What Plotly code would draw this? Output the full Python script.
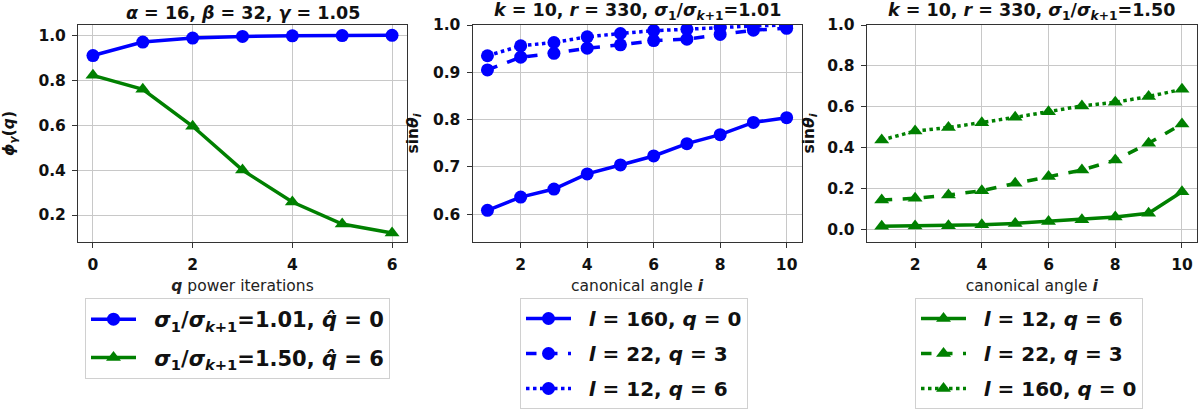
import plotly.graph_objects as go
from plotly.subplots import make_subplots

# panel 1: phi_gamma(q) vs power iterations
q_iters = [0, 1, 2, 3, 4, 5, 6]
phi_101 = [0.910, 0.970, 0.988, 0.995, 0.998, 0.999, 1.000]
phi_150 = [0.822, 0.760, 0.595, 0.400, 0.258, 0.160, 0.120]

# panels 2 and 3: sin(theta_i) vs canonical angle
angle_i = [1, 2, 3, 4, 5, 6, 7, 8, 9, 10]
sin_101_l160 = [0.608, 0.636, 0.653, 0.685, 0.704, 0.723, 0.749, 0.768, 0.794, 0.804]
sin_101_l22 = [0.905, 0.932, 0.940, 0.951, 0.958, 0.967, 0.970, 0.980, 0.989, 0.993]
sin_101_l12 = [0.935, 0.956, 0.963, 0.975, 0.982, 0.988, 0.991, 0.995, 0.998, 1.000]

sin_150_l12 = [0.015, 0.016, 0.018, 0.022, 0.029, 0.038, 0.047, 0.060, 0.079, 0.184]
sin_150_l22 = [0.144, 0.152, 0.168, 0.189, 0.225, 0.258, 0.290, 0.339, 0.421, 0.516]
sin_150_l160 = [0.437, 0.481, 0.498, 0.522, 0.548, 0.576, 0.604, 0.622, 0.650, 0.685]

BLUE = "#0000ff"
GREEN = "#008000"
FONT = "DejaVu Sans"

sig = "<i>σ</i><sub>1</sub>/<i>σ</i><sub><i>k</i>+1</sub>"
pad = "&nbsp;&nbsp;"

fig = make_subplots(rows=1, cols=3)


def add_line(x, y, col, color, symbol, dash, name, legend, group):
    fig.add_trace(go.Scatter(
        x=x, y=y, mode="lines+markers", name=pad + name,
        line=dict(color=color, width=3.5, dash=dash),
        marker=dict(color=color, symbol=symbol, size=13),
        legend=legend, legendgroup=group,
    ), row=1, col=col)


add_line(q_iters, phi_101, 1, BLUE, "circle", "solid",
         f"<b>{sig}=1.01, <i>q̂</i> = 0</b>", "legend", "a1")
add_line(q_iters, phi_150, 1, GREEN, "triangle-up", "solid",
         f"<b>{sig}=1.50, <i>q̂</i> = 6</b>", "legend", "a2")

add_line(angle_i, sin_101_l160, 2, BLUE, "circle", "solid",
         "<b><i>l</i> = 160, <i>q</i> = 0</b>", "legend2", "b1")
add_line(angle_i, sin_101_l22, 2, BLUE, "circle", "dash",
         "<b><i>l</i> = 22, <i>q</i> = 3</b>", "legend2", "b2")
add_line(angle_i, sin_101_l12, 2, BLUE, "circle", "dot",
         "<b><i>l</i> = 12, <i>q</i> = 6</b>", "legend2", "b3")

add_line(angle_i, sin_150_l12, 3, GREEN, "triangle-up", "solid",
         "<b><i>l</i> = 12, <i>q</i> = 6</b>", "legend3", "c1")
add_line(angle_i, sin_150_l22, 3, GREEN, "triangle-up", "dash",
         "<b><i>l</i> = 22, <i>q</i> = 3</b>", "legend3", "c2")
add_line(angle_i, sin_150_l160, 3, GREEN, "triangle-up", "dot",
         "<b><i>l</i> = 160, <i>q</i> = 0</b>", "legend3", "c3")

W, H = 1203, 419
ytop, ybot = 1 - 25 / H, 1 - 242 / H
xdoms = [(78 / W, 407 / W), (472.5 / W, 801.6 / W), (866.7 / W, 1197 / W)]

TICKFONT = dict(family=FONT, size=15.5, color="#111", weight="bold")
axis_style = dict(showline=True, mirror=True, linecolor="#333", linewidth=1,
                  showgrid=True, gridcolor="#c8c8c8", gridwidth=1,
                  ticks="outside", ticklen=5, tickcolor="#333", zeroline=False,
                  ticklabelstandoff=3, tickfont=TICKFONT)

for i in range(3):
    fig.update_xaxes(axis_style, domain=xdoms[i], row=1, col=i + 1)
    fig.update_yaxes(axis_style, domain=[ybot, ytop], row=1, col=i + 1)

XT = dict(family=FONT, size=15.5, color="#222")
YT = dict(family=FONT, size=15.5, color="#111")

fig.update_xaxes(range=[-0.3, 6.3], tickvals=[0, 2, 4, 6],
                 title=dict(text="<b><i>q</i></b> power iterations", standoff=7, font=XT),
                 row=1, col=1)
fig.update_yaxes(range=[0.08, 1.046], tickvals=[0.2, 0.4, 0.6, 0.8, 1.0], tickformat=".1f",
                 title=dict(text="<b><i>ϕ</i><sub><i>γ</i></sub>(<i>q</i>)</b>", standoff=20, font=YT),
                 row=1, col=1)
for c in (2, 3):
    fig.update_xaxes(range=[0.55, 10.45], tickvals=[2, 4, 6, 8, 10],
                     title=dict(text="canonical angle <b><i>i</i></b>", standoff=7, font=XT),
                     row=1, col=c)
fig.update_yaxes(range=[0.541, 1.0], tickvals=[0.6, 0.7, 0.8, 0.9, 1.0], tickformat=".1f",
                 title=dict(text="<b>sin<i>θ</i><sub><i>i</i></sub></b>", standoff=10, font=YT),
                 row=1, col=2)
fig.update_yaxes(range=[-0.062, 1.0], tickvals=[0.0, 0.2, 0.4, 0.6, 0.8, 1.0], tickformat=".1f",
                 title=dict(text="<b>sin<i>θ</i><sub><i>i</i></sub></b>", standoff=8, font=YT),
                 row=1, col=3)

titles = [
    "<b><i>α</i> = 16, <i>β</i> = 32, <i>γ</i> = 1.05</b>",
    f"<b><i>k</i> = 10, <i>r</i> = 330, {sig}=1.01</b>",
    f"<b><i>k</i> = 10, <i>r</i> = 330, {sig}=1.50</b>",
]
for (x0, x1), t in zip(xdoms, titles):
    fig.add_annotation(x=(x0 + x1) / 2, y=ytop, xref="paper", yref="paper",
                       xanchor="center", yanchor="bottom", yshift=0,
                       text=t, showarrow=False,
                       font=dict(family=FONT, size=17.5, color="#111"))

leg_style = dict(xanchor="left", yanchor="top", bgcolor="white",
                 bordercolor="#d0d0d0", borderwidth=1, itemwidth=45,
                 tracegroupgap=6,
                 font=dict(family=FONT, size=20, color="#111"))
fig.update_layout(
    width=W, height=H, margin=dict(l=0, r=0, t=0, b=0, autoexpand=False),
    plot_bgcolor="white", paper_bgcolor="white",
    font=dict(family=FONT),
    legend=dict(leg_style, x=85 / W, y=1 - 298 / H, tracegroupgap=8,
                font=dict(family=FONT, size=21, color="#111")),
    legend2=dict(leg_style, x=520 / W, y=1 - 298 / H),
    legend3=dict(leg_style, x=915 / W, y=1 - 298 / H),
)

# drop the default page margin so the figure sits at the window origin
fig.write_html("out.html", config={"displayModeBar": False},
               post_script="document.body.style.margin='0';")
